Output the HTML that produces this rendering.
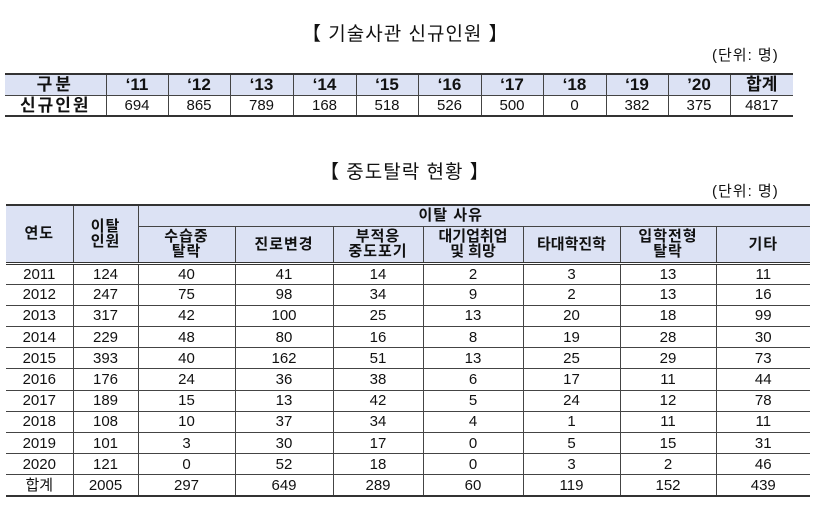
<!DOCTYPE html>
<html><head><meta charset="utf-8"><style>
body{margin:0;width:819px;height:516px;background:#fff;position:relative;overflow:hidden;font-family:"Liberation Sans","Noto Sans CJK KR",sans-serif;color:#111}
.t{position:absolute;font-size:19px;white-space:nowrap;letter-spacing:1px}
.u{position:absolute;font-size:15px;white-space:nowrap;letter-spacing:1px}
table{position:absolute;border-collapse:collapse;table-layout:fixed}
td{border:1px solid #444;text-align:center;padding:0;font-size:15px;line-height:15px;overflow:hidden}
tr td:first-child{border-left:none}
tr td:last-child{border-right:none}
.h td{background:#dce2f4;font-weight:bold;font-size:17px}
#t1{left:5px;top:73px;width:788px;border-top:2px solid #333;border-bottom:2px solid #333}
#t1 tr{height:21px}
#t2{left:6px;top:204px;width:804px;border-top:2px solid #333;border-bottom:2px solid #333}
#t2 .h td{font-weight:bold;font-size:15px;line-height:15px;letter-spacing:1px}
#t2 tr.d{height:21.2px}
.dbl td{border-bottom:3px double #333}
</style></head><body>
<div class="t" style="left:302px;top:19px">【 기술사관 신규인원 】</div>
<div class="u" style="left:712px;top:44px">(단위: 명)</div>
<table id="t1">
<colgroup><col style="width:101px"><col style="width:62px"><col style="width:62px"><col style="width:63px"><col style="width:63px"><col style="width:62px"><col style="width:63px"><col style="width:62px"><col style="width:63px"><col style="width:62px"><col style="width:62px"><col style="width:63px"></colgroup>
<tr class="h"><td style="letter-spacing:3px">구분</td><td>‘11</td><td>‘12</td><td>‘13</td><td>‘14</td><td>‘15</td><td>‘16</td><td>‘17</td><td>‘18</td><td>‘19</td><td>’20</td><td>합계</td></tr>
<tr><td style="font-weight:bold;font-size:17px;letter-spacing:2px">신규인원</td><td>694</td><td>865</td><td>789</td><td>168</td><td>518</td><td>526</td><td>500</td><td>0</td><td>382</td><td>375</td><td>4817</td></tr>
</table>
<div class="t" style="left:320px;top:157px">【 중도탈락 현황 】</div>
<div class="u" style="left:712px;top:180px">(단위: 명)</div>
<table id="t2">
<colgroup><col style="width:67px"><col style="width:65px"><col style="width:97px"><col style="width:98px"><col style="width:90px"><col style="width:100px"><col style="width:97px"><col style="width:96px"><col style="width:94px"></colgroup>
<tr class="h" style="height:21px"><td rowspan="2" style="border-bottom:3px double #333">연도</td><td rowspan="2" style="border-bottom:3px double #333">이탈<br>인원</td><td colspan="7" style="text-align:left;padding-left:280px">이탈 사유</td></tr>
<tr class="h dbl" style="height:37px"><td>수습중<br>탈락</td><td>진로변경</td><td>부적응<br>중도포기</td><td style="letter-spacing:0">대기업취업<br>및 희망</td><td style="letter-spacing:0">타대학진학</td><td>입학전형<br>탈락</td><td>기타</td></tr>
<tr class="d"><td>2011</td><td>124</td><td>40</td><td>41</td><td>14</td><td>2</td><td>3</td><td>13</td><td>11</td></tr>
<tr class="d"><td>2012</td><td>247</td><td>75</td><td>98</td><td>34</td><td>9</td><td>2</td><td>13</td><td>16</td></tr>
<tr class="d"><td>2013</td><td>317</td><td>42</td><td>100</td><td>25</td><td>13</td><td>20</td><td>18</td><td>99</td></tr>
<tr class="d"><td>2014</td><td>229</td><td>48</td><td>80</td><td>16</td><td>8</td><td>19</td><td>28</td><td>30</td></tr>
<tr class="d"><td>2015</td><td>393</td><td>40</td><td>162</td><td>51</td><td>13</td><td>25</td><td>29</td><td>73</td></tr>
<tr class="d"><td>2016</td><td>176</td><td>24</td><td>36</td><td>38</td><td>6</td><td>17</td><td>11</td><td>44</td></tr>
<tr class="d"><td>2017</td><td>189</td><td>15</td><td>13</td><td>42</td><td>5</td><td>24</td><td>12</td><td>78</td></tr>
<tr class="d"><td>2018</td><td>108</td><td>10</td><td>37</td><td>34</td><td>4</td><td>1</td><td>11</td><td>11</td></tr>
<tr class="d"><td>2019</td><td>101</td><td>3</td><td>30</td><td>17</td><td>0</td><td>5</td><td>15</td><td>31</td></tr>
<tr class="d"><td>2020</td><td>121</td><td>0</td><td>52</td><td>18</td><td>0</td><td>3</td><td>2</td><td>46</td></tr>
<tr class="d"><td>합계</td><td>2005</td><td>297</td><td>649</td><td>289</td><td>60</td><td>119</td><td>152</td><td>439</td></tr>
</table>
</body></html>
